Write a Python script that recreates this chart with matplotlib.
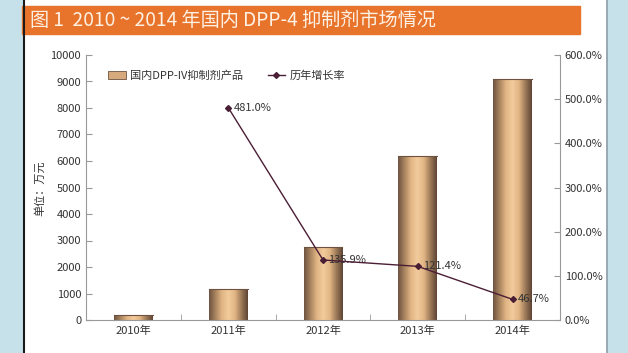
import matplotlib
matplotlib.use("Agg")
import matplotlib.pyplot as plt
import numpy as np
from matplotlib.patches import Rectangle, Patch
from matplotlib.colors import LinearSegmentedColormap
from matplotlib.legend_handler import HandlerBase

plt.rcParams['font.family'] = ['Noto Sans CJK SC', 'DejaVu Sans']

years = ["2010年", "2011年", "2012年", "2013年", "2014年"]
sales = [200, 1160, 2740, 6200, 9090]
growth_years = [1, 2, 3, 4]
growth = [481.0, 135.9, 121.4, 46.7]
growth_labels = ["481.0%", "135.9%", "121.4%", "46.7%"]
left_ticks = list(range(0, 10001, 1000))
right_ticks = [0, 100, 200, 300, 400, 500, 600]

W, H = 628, 353
fig = plt.figure(figsize=(W/100, H/100), dpi=100)
fig.patch.set_facecolor("white")

# background strips
bg = fig.add_axes([0, 0, 1, 1], zorder=-10)
bg.set_xlim(0, W); bg.set_ylim(H, 0); bg.axis("off")
bg.add_patch(Rectangle((0, 0), 23, H, color="#c6e1ea"))
bg.add_patch(Rectangle((608, 0), 20, H, color="#c6e1ea"))
bg.plot([24, 24], [0, H], color="#1a1a1a", lw=1.5)
bg.plot([607, 607], [0, H], color="#8899a6", lw=1.2)
bg.add_patch(Rectangle((22, 6), 558, 28, color="#e8742c"))
bg.text(30, 20.5, "图 1  2010 ~ 2014 年国内 DPP-4 抑制剂市场情况", color="#fdf1e4",
        fontsize=13.8, va="center", ha="left")
bg.text(40, 188, "单位：万元", rotation=90, fontsize=8, va="center", ha="center", color="#333333")

ax = fig.add_axes([86/W, 1-320/H, (560-86)/W, (320-55)/H])
x = np.arange(len(years))
bars = ax.bar(x, sales, width=0.41, color="none", edgecolor="none", zorder=2)
cmap = LinearSegmentedColormap.from_list("cyl", ["#6e5240", "#a8845f", "#e2b585", "#f3cb9c", "#e2b585", "#9c7a58", "#5e4434"])
grad = np.linspace(0, 1, 256).reshape(1, -1)
for b in bars:
    x0, y0 = b.get_x(), b.get_y()
    w, h = b.get_width(), b.get_height()
    im = ax.imshow(grad, cmap=cmap, aspect="auto", extent=[x0, x0 + w, y0, y0 + h], zorder=2)
    im.set_clip_path(b)
    ax.plot([x0, x0 + w], [y0 + h, y0 + h], color="#6e5240", lw=0.8, zorder=3)

ax.set_xlim(-0.5, 4.5)
ax.set_ylim(0, 10000)
ax.set_yticks(left_ticks)
ax.set_xticks(x)
ax.set_xticklabels(years)
ax.set_xticks(np.arange(-0.5, 5, 1), minor=True)
ax.tick_params(axis="x", which="major", length=0, labelsize=8, colors="#333333", pad=4)
ax.tick_params(axis="x", which="minor", length=4, direction="in", color="#999999")
ax.tick_params(axis="y", length=4, direction="in", labelsize=8, colors="#333333", color="#999999")
for s in ["top", "right"]:
    ax.spines[s].set_visible(False)
for s in ["left", "bottom"]:
    ax.spines[s].set_color("#999999")

ax2 = ax.twinx()
ax2.set_ylim(0, 600)
ax2.set_yticks(right_ticks)
ax2.set_yticklabels([f"{t:.1f}%" for t in right_ticks])
ax2.tick_params(axis="y", length=4, direction="in", labelsize=8, colors="#333333", color="#999999")
for s in ["top", "left", "bottom"]:
    ax2.spines[s].set_visible(False)
ax2.spines["right"].set_color("#999999")
ln, = ax2.plot(growth_years, growth, color="#4a1e35", lw=1.0, marker="D", ms=3, zorder=5)
for gx, gy, lab in zip(growth_years, growth, growth_labels):
    ax2.annotate(lab, (gx, gy), xytext=(4, 0), textcoords="offset points",
                 va="center", ha="left", fontsize=8, color="#333333")


class GradHandler(HandlerBase):
    def create_artists(self, legend, orig, xd, yd, width, height, fontsize, trans):
        rect = Rectangle((xd, yd), width, height, facecolor="#d6aa7c",
                         edgecolor="#6e5240", lw=0.6, transform=trans)
        return [rect]


leg = ax.legend([Patch(), ln], ["国内DPP-IV抑制剂产品", "历年增长率"],
                handler_map={Patch: GradHandler()}, loc="upper left",
                bbox_to_anchor=(0.025, 0.98), ncol=2, frameon=False, fontsize=8,
                handlelength=1.6, handletextpad=0.4, columnspacing=2.2)
for t in leg.get_texts():
    t.set_color("#333333")

fig.savefig("out.png", dpi=100)
